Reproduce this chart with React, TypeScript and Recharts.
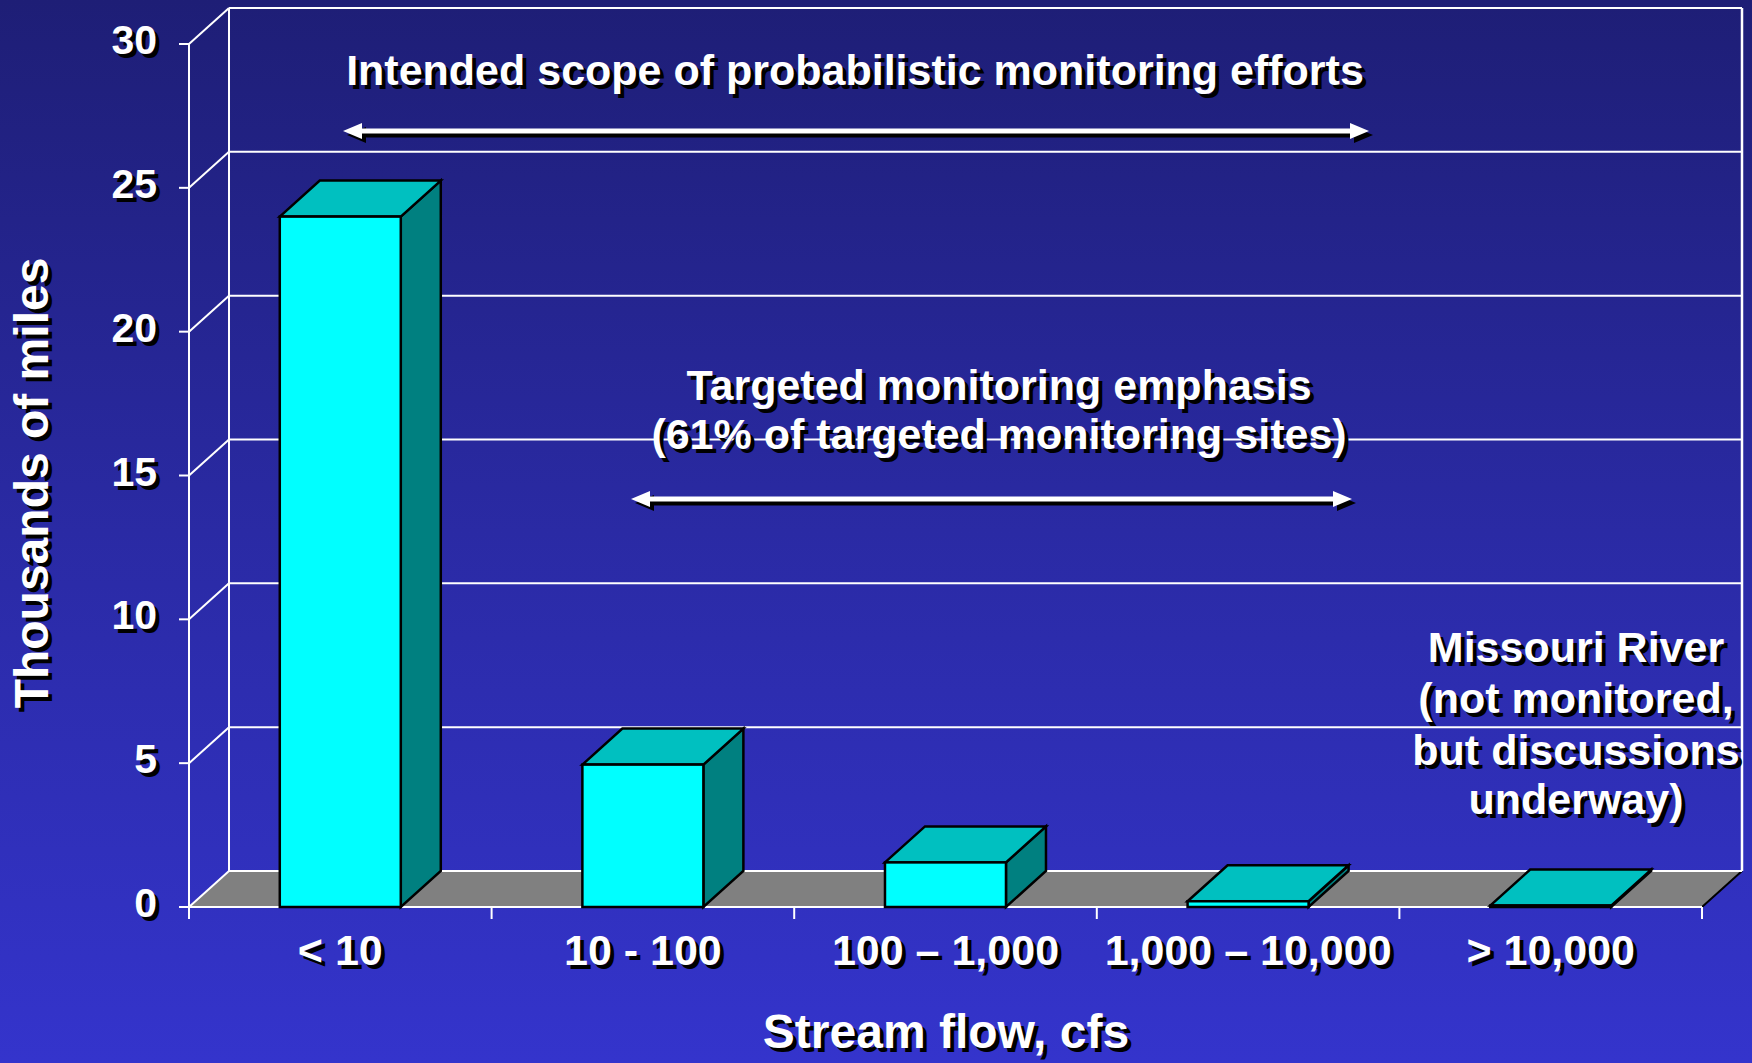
import React from 'react'
import { BarChart, Bar, XAxis, YAxis, ReferenceLine, ReferenceArea } from 'recharts'

// stream flow classes (cfs) and miles of stream, in thousands
const categories = ['< 10', '10 - 100', '100 – 1,000', '1,000 – 10,000', '> 10,000']
const milesThousands = [24.0, 4.95, 1.55, 0.2, 0.05]
const yTicks = [0, 5, 10, 15, 20, 25, 30]

const data = categories.map((name, i) => ({ name, miles: milesThousands[i] }))

const W = 1752
const H = 1063
const margin = { top: 44, right: 50, left: 0, bottom: 0 }
const Y_AXIS_W = 189
const X_AXIS_H = 156
const DX = 40 // depth of the 3d box
const DY = 36
const CAT_W = (W - Y_AXIS_W - margin.right) / categories.length
const FONT = '"Liberation Sans", Arial, Helvetica, sans-serif'

function ShadowText({ x, y, size = 43, anchor = 'middle', sx = 4, sy = 4, transform, children }: any) {
  const common = { fontFamily: FONT, fontWeight: 700, fontSize: size, textAnchor: anchor }
  return (
    <g transform={transform}>
      <text x={x + sx} y={y + sy} fill="#000" {...common}>{children}</text>
      <text x={x} y={y} fill="#fff" {...common}>{children}</text>
    </g>
  )
}

function DoubleArrow({ x1, x2, y }: { x1: number; x2: number; y: number }) {
  const head = 19
  const half = 8
  const t = 5
  const draw = (o: number, fill: string) => (
    <g fill={fill}>
      <rect x={x1 + head - 2 + o} y={y - t / 2 + o} width={x2 - x1 - 2 * head + 4} height={t} />
      <polygon points={`${x1 + o},${y + o} ${x1 + head + o},${y - half + o} ${x1 + head + o},${y + half + o}`} />
      <polygon points={`${x2 + o},${y + o} ${x2 - head + o},${y - half + o} ${x2 - head + o},${y + half + o}`} />
    </g>
  )
  return (
    <g>
      {draw(4, '#000')}
      {draw(0, '#fff')}
    </g>
  )
}

const YTick = ({ x, y, payload }: any) => (
  <ShadowText x={x - 22} y={y + 10} size={41} anchor="end">{payload.value}</ShadowText>
)

const XTick = ({ x, y, payload, index }: any) => {
  const left = x - CAT_W / 2
  const right = x + CAT_W / 2
  return (
    <g>
      <line x1={left} y1={y} x2={left} y2={y + 12} stroke="#fff" strokeWidth={2} />
      {index === categories.length - 1 && (
        <line x1={right} y1={y} x2={right} y2={y + 12} stroke="#fff" strokeWidth={2} />
      )}
      <ShadowText x={x} y={y + 58} size={43}>{payload.value}</ShadowText>
    </g>
  )
}

// horizontal grid line on back wall plus the diagonal on the side wall
const WallLine = ({ x1, y1, x2 }: any) => (
  <g stroke="#fff" strokeWidth={2}>
    <line x1={x1} y1={y1} x2={x1 + DX} y2={y1 - DY} />
    <line x1={x1 + DX} y1={y1 - DY} x2={x2 + DX} y2={y1 - DY} />
  </g>
)

// floor and the vertical edges of the back wall
const WallFrame = ({ x, y, width, height }: any) => {
  const b = y + height
  return (
    <g>
      <polygon
        points={`${x},${b} ${x + width},${b} ${x + width + DX},${b - DY} ${x + DX},${b - DY}`}
        fill="#808080"
      />
      <line x1={x + width} y1={b} x2={x + width + DX} y2={b - DY} stroke="#000" strokeWidth={2} />
      <line x1={x + DX} y1={y - DY} x2={x + DX} y2={b - DY} stroke="#fff" strokeWidth={2} />
      <line x1={x + width + DX} y1={y - DY} x2={x + width + DX} y2={b - DY} stroke="#fff" strokeWidth={2.5} />
    </g>
  )
}

const Bar3D = (props: any) => {
  const { x, y, width, height } = props
  if (x == null || width == null) return null
  return (
    <g stroke="#000" strokeWidth={2.5} strokeLinejoin="miter">
      <polygon
        points={`${x + width},${y} ${x + width + DX},${y - DY} ${x + width + DX},${y + height - DY} ${x + width},${y + height}`}
        fill="#008080"
      />
      <polygon
        points={`${x},${y} ${x + DX},${y - DY} ${x + width + DX},${y - DY} ${x + width},${y}`}
        fill="#00c0c0"
      />
      <rect x={x} y={y} width={width} height={height} fill="#00ffff" />
    </g>
  )
}

const NoShape = () => <g />

const layer: React.CSSProperties = { position: 'absolute', left: 0, top: 0 }

export default function App() {
  return (
    <div
      style={{
        position: 'absolute',
        left: 0,
        top: 0,
        width: W,
        height: H,
        overflow: 'hidden',
        background: 'linear-gradient(180deg, #1e1e76 0%, #2a2aa4 50%, #3434cc 100%)',
      }}
    >
      {/* walls, floor and axes */}
      <div style={layer}>
        <BarChart width={W} height={H} data={data} margin={margin} barCategoryGap="30%">
          <XAxis
            dataKey="name"
            height={X_AXIS_H}
            interval={0}
            axisLine={{ stroke: '#fff', strokeWidth: 2 }}
            tickLine={false}
            tickSize={0}
            tickMargin={0}
            tick={<XTick />}
          />
          <YAxis
            type="number"
            domain={[0, 30]}
            ticks={yTicks}
            width={Y_AXIS_W}
            axisLine={{ stroke: '#fff', strokeWidth: 2 }}
            tickLine={{ stroke: '#fff', strokeWidth: 2 }}
            tickSize={10}
            tickMargin={0}
            tick={<YTick />}
          />
          <ReferenceArea y1={0} y2={30} shape={WallFrame} />
          {yTicks.map((t) => (
            <ReferenceLine key={t} y={t} shape={WallLine} />
          ))}
          {/* invisible series so the axes get their scales */}
          <Bar dataKey="miles" shape={NoShape} fill="none" isAnimationActive={false} />
        </BarChart>
      </div>

      {/* 3d bars */}
      <div style={layer}>
        <BarChart width={W} height={H} data={data} margin={margin} barCategoryGap="30%">
          <XAxis dataKey="name" height={X_AXIS_H} interval={0} axisLine={false} tickLine={false} tick={false} />
          <YAxis type="number" domain={[0, 30]} ticks={yTicks} width={Y_AXIS_W} axisLine={false} tickLine={false} tick={false} />
          <Bar dataKey="miles" shape={Bar3D} isAnimationActive={false} />
        </BarChart>
      </div>

      {/* titles and annotations */}
      <svg width={W} height={H} style={{ ...layer, pointerEvents: 'none' }}>
        <ShadowText x={855} y={85}>Intended scope of probabilistic monitoring efforts</ShadowText>
        <DoubleArrow x1={343} x2={1369} y={131} />
        <ShadowText x={999} y={400}>Targeted monitoring emphasis</ShadowText>
        <ShadowText x={999} y={449}>(61% of targeted monitoring sites)</ShadowText>
        <DoubleArrow x1={631} x2={1352} y={499} />
        <ShadowText x={1576} y={662}>Missouri River</ShadowText>
        <ShadowText x={1576} y={713}>(not monitored,</ShadowText>
        <ShadowText x={1576} y={765}>but discussions</ShadowText>
        <ShadowText x={1576} y={814}>underway)</ShadowText>
        <ShadowText x={946} y={1048} size={48}>Stream flow, cfs</ShadowText>
        <ShadowText x={48} y={483} size={48} sx={-4} sy={4} transform="rotate(-90, 48, 483)">
          Thousands of miles
        </ShadowText>
      </svg>
    </div>
  )
}
